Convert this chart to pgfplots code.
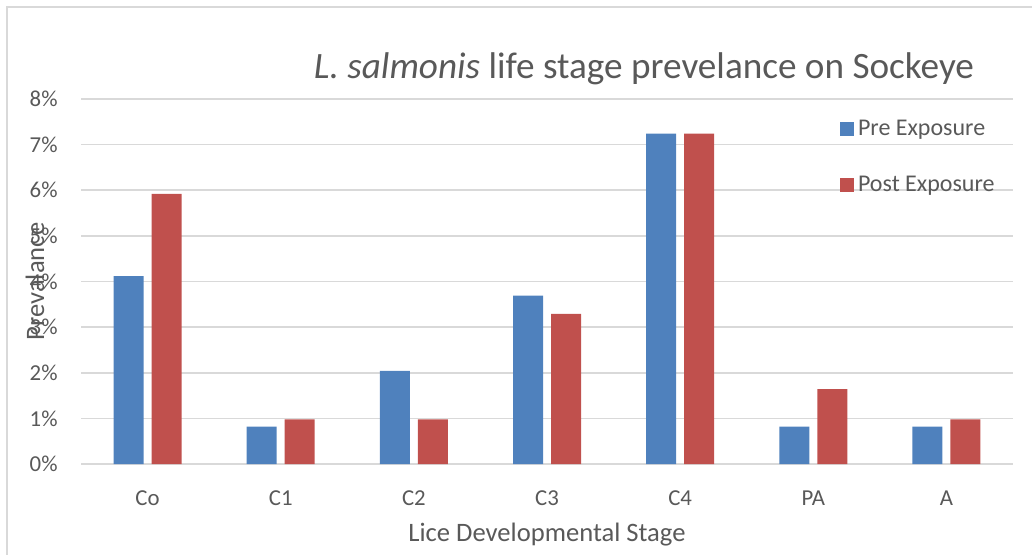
\documentclass[border=0pt]{standalone}
\usepackage{pgfplots}
\pgfplotsset{compat=1.18}
\usepackage{fontspec}
\setmainfont{Carlito}
\definecolor{xblue}{HTML}{4F81BD}
\definecolor{xred}{HTML}{C0504D}
\definecolor{txt}{HTML}{595959}
\definecolor{gridc}{HTML}{D9D9D9}
\begin{document}
\begin{tikzpicture}
\path[use as bounding box] (0,0) rectangle (516pt,277pt);
\draw[gridc, line width=0.8pt] (3.5pt,-5pt) -- (3.5pt,273.5pt) -- (530pt,273.5pt);
\begin{axis}[
  at={(40.5pt,45pt)}, anchor=south west,
  scale only axis, width=466pt, height=182.5pt,
  ybar, bar width=15pt, ybar=4pt,
  xmin=-0.5, xmax=6.5, ymin=0, ymax=8,
  xtick={0,...,6}, xticklabels={Co,C1,C2,C3,C4,PA,A},
  ytick={0,...,8}, yticklabels={0\%,1\%,2\%,3\%,4\%,5\%,6\%,7\%,8\%},
  axis line style={draw=none}, major tick length=0pt,
  ymajorgrids, xmajorgrids=false, major grid style={draw=gridc, line width=0.8pt},
  tick label style={text=txt, font=\fontsize{11.4}{13}\selectfont},
  yticklabel style={inner sep=0pt, xshift=-11.5pt},
  xticklabel style={inner sep=0pt, yshift=-13pt},
  xlabel={Lice Developmental Stage}, ylabel={Prevalance},
  every axis x label/.style={at={(axis description cs:0.5,-0.1945)}, anchor=center, text=txt, font=\fontsize{13.3}{15}\selectfont},
  every axis y label/.style={at={(axis description cs:-0.0494,0.5)}, rotate=90, anchor=center, text=txt, font=\fontsize{13.3}{15}\selectfont},
  title={\textit{L. salmonis} life stage prevelance on Sockeye},
  title style={at={(axis description cs:0.604,1.05)}, anchor=center, text=txt, font=\fontsize{18.6}{22}\selectfont},
  legend style={at={(0.814,0.955)}, anchor=north west, draw=none, fill=none, inner sep=0pt,
    row sep=15pt, font=\fontsize{12}{14}\selectfont, text=txt,
    /tikz/every even column/.append style={column sep=3pt}},
  legend cell align=left,
  legend image code/.code={\fill[#1] (0pt,-3.5pt) rectangle (7pt,3.5pt);},
]
\addplot[fill=xblue, draw=none] coordinates {(0,4.12) (1,0.82) (2,2.04) (3,3.69) (4,7.24) (5,0.82) (6,0.82)};
\addplot[fill=xred, draw=none] coordinates {(0,5.92) (1,0.98) (2,0.98) (3,3.29) (4,7.24) (5,1.64) (6,0.98)};
\legend{Pre Exposure, Post Exposure}
\end{axis}
\end{tikzpicture}
\end{document}
